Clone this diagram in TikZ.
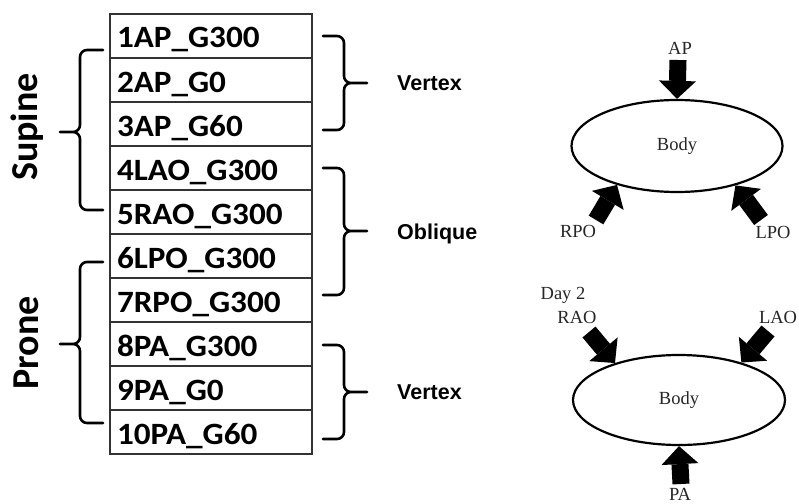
\documentclass[tikz,border=0pt]{standalone}
\usepackage{fontspec}
\setmainfont{Liberation Serif}
\newfontfamily\tabfont{Carlito}[FakeStretch=1.07]
\newfontfamily\sidefont{Carlito}
\newfontfamily\groupfont{Liberation Sans}
\usetikzlibrary{arrows.meta,shapes.geometric}

% brace: #1 end x, #2 spine x, #3 tip x, #4 top y, #5 tip y, #6 bottom y
\newcommand\GroupBrace[6]{%
  \draw[bracestroke] (#1,#4) -- (#2,#4) -- (#2,#5) -- (#3,#5)
                     (#3,#5) -- (#2,#5) -- (#2,#6) -- (#1,#6);}

\tikzset{
  cell/.style={draw=black!80, line width=1.1pt, minimum width=202pt,
    minimum height=44pt, text width=188pt, inner xsep=7pt, inner ysep=0pt,
    text height=34pt, text depth=10pt, align=left,
    font=\tabfont\bfseries\fontsize{31}{31}\selectfont},
  side/.style={rotate=90, anchor=base, inner sep=0pt,
    font=\sidefont\bfseries\fontsize{38}{38}\selectfont},
  grouplabel/.style={anchor=base west, inner sep=0pt,
    font=\groupfont\bfseries\fontsize{21.5}{21.5}\selectfont},
  bracestroke/.style={line width=2.6pt, rounded corners=7pt, line cap=round},
  body/.style={ellipse, draw, line width=2.2pt, inner sep=0pt,
    font=\fontsize{18.5}{18.5}\selectfont, text=black!85},
  lab/.style={inner sep=0pt, anchor=base, font=\fontsize{18.5}{18.5}\selectfont, text=black!85},
  blockarrow/.style={line width=17pt,
    -{Triangle[width=37pt,length=18pt,line width=0pt]}},
}

\begin{document}
\begin{tikzpicture}[x=1pt,y=-1pt]
\useasboundingbox (0,0) rectangle (799,503);

% acquisition table
\node[cell] (r1)  at (211,36)  {1AP\_G300};
\node[cell] (r2)  at (211,80)  {2AP\_G0};
\node[cell] (r3)  at (211,124) {3AP\_G60};
\node[cell] (r4)  at (211,168) {4LAO\_G300};
\node[cell] (r5)  at (211,212) {5RAO\_G300};
\node[cell] (r6)  at (211,256) {6LPO\_G300};
\node[cell] (r7)  at (211,300) {7RPO\_G300};
\node[cell] (r8)  at (211,344) {8PA\_G300};
\node[cell] (r9)  at (211,388) {9PA\_G0};
\node[cell] (r10) at (211,432) {10PA\_G60};

% patient position
\GroupBrace{103}{80}{60}{50}{132}{210}
\GroupBrace{103}{80}{60}{262}{344}{423}
\node[side] (supine) at (37,127) {Supine};
\node[side] (prone)  at (38,343) {Prone};

% view groups
\GroupBrace{323}{344}{367}{36}{83}{130}
\GroupBrace{323}{344}{367}{168}{231}{295}
\GroupBrace{323}{344}{367}{345}{392}{439}
\node[grouplabel] (vertex1) at (397,90)  {Vertex};
\node[grouplabel] (oblique) at (397,239) {Oblique};
\node[grouplabel] (vertex2) at (397,399) {Vertex};

% day 1: supine views
\node[body, minimum width=211pt, minimum height=92pt] (b1) at (677,146) {Body};
\coordinate (apT)  at (678,60);
\coordinate (rpoT) at (596,220);
\coordinate (lpoT) at (761,220);
\draw[blockarrow] (apT) -- (b1.north);
\draw[blockarrow] (rpoT) -- (b1.213);
\draw[blockarrow] (lpoT) -- (b1.326);
\node[lab] (ap)  at (680,55)  {AP};
\node[lab] (rpo) at (578,237) {RPO};
\node[lab] (lpo) at (773,238) {LPO};

% day 2: prone views
\node[body, minimum width=212pt, minimum height=90pt] (b2) at (679,400) {Body};
\coordinate (raoT) at (589,332);
\coordinate (laoT) at (768,331);
\coordinate (paT)  at (681,484);
\draw[blockarrow] (raoT) -- (b2.150);
\draw[blockarrow] (laoT) -- (b2.31);
\draw[blockarrow] (paT) -- (b2.south);
\node[lab] (day) at (563,299) {Day 2};
\node[lab] (rao) at (577,323) {RAO};
\node[lab] (lao) at (778,323) {LAO};
\node[lab] (pa)  at (680,500) {PA};
\end{tikzpicture}
\end{document}
